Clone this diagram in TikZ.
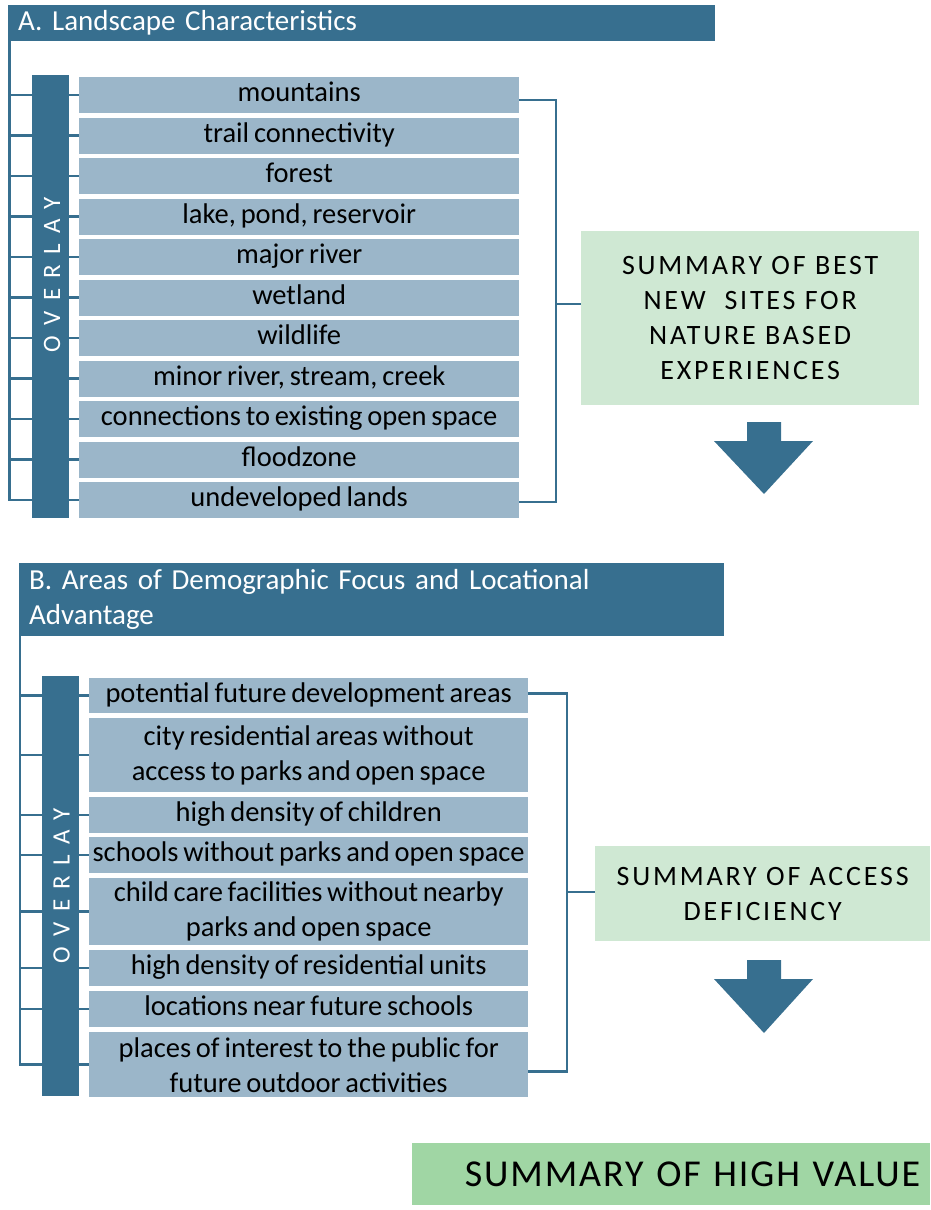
\documentclass[tikz,border=0pt]{standalone}
\usepackage{fontspec}
\setmainfont{Carlito}[WordSpace=0.75]
\newfontfamily\capsfont[LetterSpace=10]{Carlito}
\newfontfamily\overlayfont[LetterSpace=42]{Carlito}
\newfontfamily\valuefont[LetterSpace=5]{Carlito}
\usepackage{tikz}
\usetikzlibrary{positioning,calc,backgrounds}
\definecolor{lcblue}{RGB}{55,111,143}
\definecolor{itemblue}{RGB}{155,182,201}
\definecolor{sumgreen}{RGB}{207,232,211}
\definecolor{valgreen}{RGB}{160,214,164}

\begin{document}
\begin{tikzpicture}[x=1pt, y=-1pt,
    header/.style={fill=lcblue, text=white, anchor=north west, align=left, inner xsep=10pt, inner ysep=0pt, font=\fontsize{29}{35}\selectfont},
    factor/.style={fill=itemblue, anchor=north west, align=center, inner sep=0pt, font=\fontsize{28.5}{35}\selectfont},
    oneline/.style={factor, text height=20pt, text depth=7pt},
    ovbar/.style={fill=lcblue, anchor=north west, inner sep=0pt, minimum width=37pt},
    ovtext/.style={text=white, rotate=90, inner sep=0pt, font=\overlayfont\fontsize{25}{25}\selectfont},
    summary/.style={fill=sumgreen, anchor=north west, align=center, inner sep=0pt, font=\capsfont\fontsize{28}{35}\selectfont},
    link/.style={draw=lcblue, line width=2.5pt},
]
\useasboundingbox (0,0) rectangle (930,1210);

% A. landscape characteristics
\node[header, minimum width=707pt, minimum height=36pt, text width=687pt] (hdrA) at (8,5) {A. Landscape Characteristics};
\node[ovbar, minimum height=443pt] (barA) at (32,75) {};
\node[ovtext] (ovA) at (52,275) {OVERLAY};
\node[oneline, minimum width=440pt, minimum height=36pt] (mtn) at (79,77) {mountains};
\node[oneline, minimum width=440pt, minimum height=36pt] (trail) at (79,117.5) {trail connectivity};
\node[oneline, minimum width=440pt, minimum height=36pt] (forest) at (79,158) {forest};
\node[oneline, minimum width=440pt, minimum height=36pt] (lake) at (79,198.5) {lake, pond, reservoir};
\node[oneline, minimum width=440pt, minimum height=36pt] (majriv) at (79,239) {major river};
\node[oneline, minimum width=440pt, minimum height=36pt] (wetland) at (79,279.5) {wetland};
\node[oneline, minimum width=440pt, minimum height=36pt] (wildlife) at (79,320) {wildlife};
\node[oneline, minimum width=440pt, minimum height=36pt] (minriv) at (79,360.5) {minor river, stream, creek};
\node[oneline, minimum width=440pt, minimum height=36pt] (conn) at (79,401) {connections to existing open space};
\node[oneline, minimum width=440pt, minimum height=36pt] (flood) at (79,441.5) {floodzone};
\node[oneline, minimum width=440pt, minimum height=36pt] (undev) at (79,482) {undeveloped lands};
\node[summary, minimum width=338pt, minimum height=174pt, text width=330pt] (sumA) at (581,231) {SUMMARY OF BEST\\NEW \ SITES FOR\\NATURE BASED\\EXPERIENCES};

\coordinate (trunkA) at (9.5,41);
\coordinate (brA) at (556,304);
\begin{scope}[on background layer]
\draw[link] (trunkA) |- (undev.west);
\foreach \f in {mtn,trail,forest,lake,majriv,wetland,wildlife,minriv,conn,flood}
    \draw[link] (trunkA |- \f.west) -- (\f.west);
\end{scope}
\draw[link] ($(mtn.east)+(0,5)$) -| (brA) |- ($(undev.east)+(0,2)$);
\draw[link] (brA) -- (brA -| sumA.west);
\fill[lcblue] (747,422) -- (781,422) -- (781,441) -- (813,441) -- (764,494) -- (714,441) -- (747,441) -- cycle;

% B. demographic focus and locational advantage
\node[header, minimum width=705pt, minimum height=73pt, text width=685pt] (hdrB) at (19,563) {B. Areas of Demographic Focus and Locational\\Advantage};
\node[ovbar, minimum height=420pt] (barB) at (42,676) {};
\node[ovtext] (ovB) at (61.5,886) {OVERLAY};
\node[oneline, minimum width=439pt, minimum height=35pt] (potdev) at (89,678) {potential future development areas};
\node[factor, minimum width=439pt, minimum height=74pt] (cityres) at (89,718) {city residential areas without\\access to parks and open space};
\node[oneline, minimum width=439pt, minimum height=36pt] (children) at (89,797) {high density of children};
\node[oneline, minimum width=439pt, minimum height=36pt] (schools) at (89,837) {schools without parks and open space};
\node[factor, minimum width=439pt, minimum height=67pt] (childcare) at (89,878) {child care facilities without nearby\\parks and open space};
\node[oneline, minimum width=439pt, minimum height=36pt] (resunits) at (89,950) {high density of residential units};
\node[oneline, minimum width=439pt, minimum height=36pt] (futschools) at (89,991) {locations near future schools};
\node[factor, minimum width=439pt, minimum height=65pt] (interest) at (89,1032) {places of interest to the public for\\future outdoor activities};
\node[summary, minimum width=335pt, minimum height=95pt, text width=330pt] (sumB) at (595,846) {SUMMARY OF ACCESS\\DEFICIENCY};

\coordinate (trunkB) at (20,636);
\coordinate (brB) at (567,892);
\begin{scope}[on background layer]
\draw[link] (trunkB) |- (interest.west);
\foreach \f in {potdev,cityres,children,schools,childcare,resunits,futschools}
    \draw[link] (trunkB |- \f.west) -- (\f.west);
\end{scope}
\draw[link] ($(potdev.east)+(0,-2)$) -| (brB) |- ($(interest.east)+(0,7)$);
\draw[link] (brB) -- (brB -| sumB.west);
\fill[lcblue] (747,960) -- (781,960) -- (781,979) -- (813,979) -- (764,1033) -- (714,979) -- (747,979) -- cycle;

% result
\node[fill=valgreen, anchor=north west, minimum width=518pt, minimum height=62pt, text width=498pt, inner xsep=10pt, inner ysep=0pt, align=right, font=\valuefont\fontsize{38}{40}\selectfont] (value) at (412,1143) {SUMMARY OF HIGH VALUE};
\end{tikzpicture}
\end{document}
